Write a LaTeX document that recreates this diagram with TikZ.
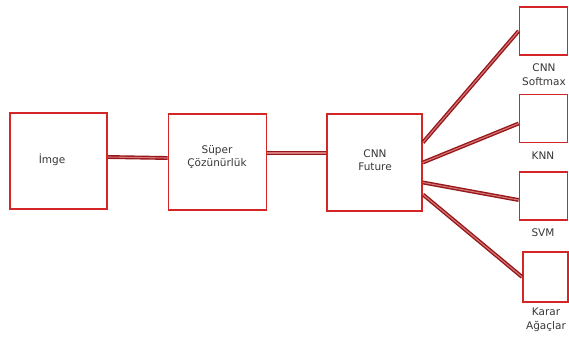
\documentclass[tikz,border=0pt]{standalone}
\usepackage{fontspec}
\setmainfont{DejaVu Sans}
\definecolor{boxred}{RGB}{212,38,38}
\definecolor{linkred}{RGB}{150,22,26}
\definecolor{linkin}{RGB}{215,120,120}
\definecolor{txt}{RGB}{55,55,55}
\tikzset{
  box/.style={draw=boxred, line width=1.8pt, inner sep=0pt, fill=white},
  lbl/.style={align=center, font=\fontsize{10.5}{13.5}\selectfont, text=txt, inner sep=0pt},
  link/.style={draw=linkred, line width=1.4pt, double=linkin, double distance=1.1pt}
}
\begin{document}
\begin{tikzpicture}[x=1pt,y=-1pt]
\useasboundingbox (0,0) rectangle (569,338);
% main boxes
\node[box, minimum width=97pt, minimum height=96pt] (imge) at (58.5,161) {};
\node[box, minimum width=98pt, minimum height=96pt] (super) at (217.5,162) {};
\node[box, minimum width=95pt, minimum height=97pt] (cnn) at (374.5,162.5) {};
% right boxes
\node[box, minimum width=48pt, minimum height=48pt] (soft) at (543.5,31) {};
\node[box, minimum width=48pt, minimum height=48pt] (knn) at (543.5,118.5) {};
\node[box, minimum width=48pt, minimum height=48pt] (svm) at (543.5,196) {};
\node[box, minimum width=45pt, minimum height=50pt] (karar) at (545.5,277) {};
% texts
\node[lbl] (timge) at (52,160) {İmge};
\node[lbl] (tsuper) at (217,157) {Süper\\Çözünürlük};
\node[lbl] (tcnn) at (375,160) {CNN\\Future};
\node[lbl] (tsoft) at (544,74.5) {CNN\\Softmax};
\node[lbl] (tknn) at (543,156) {KNN};
\node[lbl] (tsvm) at (543,233) {SVM};
\node[lbl] (tkarar) at (546,320) {Karar\\Ağaçlar};
% connectors
\draw[link] ([yshift=4pt]imge.east) -- ([yshift=4pt]super.west);
\draw[link] ([yshift=9pt]super.east) -- ([yshift=9.5pt]cnn.west);
\draw[link] ([yshift=20pt]cnn.east) -- (soft.west);
\draw[link] ([yshift=0pt]cnn.east) -- ([yshift=-5pt]knn.west);
\draw[link] ([yshift=-20pt]cnn.east) -- ([yshift=-4pt]svm.west);
\draw[link] ([yshift=-32pt]cnn.east) -- (karar.west);
\end{tikzpicture}
\end{document}
